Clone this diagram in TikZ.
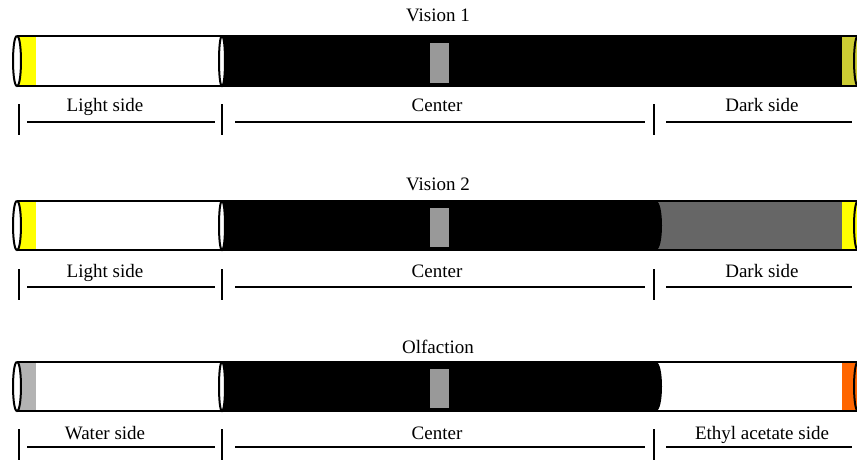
\documentclass[tikz,border=0pt]{standalone}
\usepackage{fontspec}
\setmainfont{Liberation Serif}
\newfontfamily\tnr{Liberation Serif}
\definecolor{capyellow}{HTML}{FFFF00}
\definecolor{capolive}{HTML}{CCCC33}
\definecolor{capgray}{HTML}{B3B3B3}
\definecolor{caporange}{HTML}{FF6600}
\definecolor{darkgray}{HTML}{666666}
\definecolor{midgray}{HTML}{999999}
\tikzset{
  lbl/.style={font=\tnr\fontsize{19}{22}\selectfont, anchor=base, inner sep=0pt},
  rule/.style={line width=2pt},
  outline/.style={line width=2pt},
}
\newcommand\mytube[8]{%
  % #1 top, #2 bottom, #3 left cap, #4 right fill, #5 right cap, #6 title, #7 title baseline, #8 row name
  \pgfmathsetmacro\tT{#1}\pgfmathsetmacro\tB{#2}%
  \fill[white] (17,\tT) rectangle (222,\tB);
  \fill[#3] (17,\tT) rectangle (36,\tB);
  \fill[#4] (650,\tT) rectangle (842,\tB);
  \fill[black] (222,\tT) -- (656,\tT) .. controls (664,\tT) and (664,\tB) .. (656,\tB) -- (222,\tB) -- cycle;
  \fill[#5] (842,\tT) rectangle (860,\tB);
  \fill[midgray] (430,\tT+7) rectangle (449,\tB-3);
  \draw[outline] (17,\tT) -- (860,\tT);
  \draw[outline] (17,\tB) -- (860,\tB);
  \draw[outline, fill=white] (17,\tT) .. controls (22.3,\tT) and (22.3,\tB) .. (17,\tB) .. controls (11.7,\tB) and (11.7,\tT) .. (17,\tT);
  \draw[outline, fill=white] (222,\tT) .. controls (226,\tT) and (226,\tB) .. (222,\tB) .. controls (218,\tB) and (218,\tT) .. (222,\tT);
  \draw[outline] (858,\tT) .. controls (852.7,\tT) and (852.7,\tB) .. (858,\tB);
  \node[lbl] (title#8) at (438,#7) {#6};
}
\newcommand\myrule[5]{%
  % #1 line y, #2 baseline, #3 left text, #4 right text, #5 row name
  \draw[rule] (19,#1-18) -- (19,#1+13);
  \draw[rule] (222,#1-18) -- (222,#1+13);
  \draw[rule] (654,#1-18) -- (654,#1+13);
  \draw[rule] (27,#1) -- (215,#1);
  \draw[rule] (235,#1) -- (645,#1);
  \draw[rule] (666,#1) -- (852,#1);
  \node[lbl] (left#5) at (105,#2) {#3};
  \node[lbl] (center#5) at (437,#2) {Center};
  \node[lbl] (right#5) at (762,#2) {#4};
}
\begin{document}
\begin{tikzpicture}[x=1pt,y=-1pt]
\useasboundingbox (0,0) rectangle (857,459);
\clip (0,0) rectangle (857,459);
\mytube{36}{86}{capyellow}{black}{capolive}{Vision 1}{21}{a}
\myrule{122}{111}{Light side}{Dark side}{a}
\mytube{201}{250}{capyellow}{darkgray}{capyellow}{Vision 2}{190}{b}
\myrule{287}{277}{Light side}{Dark side}{b}
\mytube{362}{411}{capgray}{white}{caporange}{Olfaction}{353}{c}
\myrule{447}{439}{Water side}{Ethyl acetate side}{c}
\end{tikzpicture}
\end{document}
